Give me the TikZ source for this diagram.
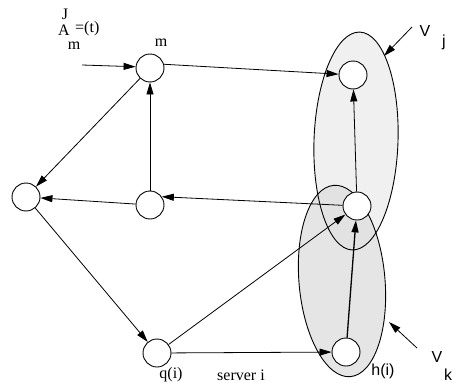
\documentclass[tikz,border=0pt]{standalone}
\usepackage{fontspec}
\setmainfont{Liberation Serif}
\newfontfamily\labsans{Liberation Sans}
\usetikzlibrary{arrows.meta, positioning}
\tikzset{
  station/.style={circle, draw, fill=white, minimum size=28pt,
    inner sep=0pt, line width=0.9pt},
  flow/.style={-{Triangle[length=12pt, width=7pt]}, line width=0.8pt},
  region/.style={draw, line width=0.9pt},
  txt/.style={font=\fontsize{16}{18}\selectfont, inner sep=0pt},
  sanstxt/.style={font=\fontsize{16}{18}\labsans, inner sep=0pt}
}

\begin{document}
\begin{tikzpicture}[x=1pt, y=-1pt]
  \useasboundingbox (0,0) rectangle (453,383);

  % regions V_j and V_k
  \fill[gray!12, rotate around={-2:(356,141)}] (356,141) ellipse [x radius=42, y radius=109];
  \fill[gray!25, fill opacity=0.8, rotate around={5:(342,281)}] (342,281) ellipse [x radius=43, y radius=96];
  \draw[region, rotate around={-2:(356,141)}] (356,141) ellipse [x radius=42, y radius=109];
  \draw[region, rotate around={5:(342,281)}] (342,281) ellipse [x radius=43, y radius=96];

  % stations
  \node[station] (nm) at (150,68) {};
  \node[station] (nt) at (353,75) {};
  \node[station] (nc) at (150,205) {};
  \node[station] (nl) at (26,197) {};
  \node[station] (nr) at (357,206) {};
  \node[station] (nq) at (157,353) {};
  \node[station] (nh) at (346,352) {};

  % connectors
  \coordinate (arr) at (82,65);
  \draw[flow] (arr) -- (nm.175);
  \draw[flow] (nm.15) -- (nt);
  \draw[flow] (nm) -- (nl);
  \draw[flow] (nc) -- (nm);
  \draw[flow] (nc) -- (nl);
  \draw[flow] (nr) -- (nc.35);
  \draw[flow] (nr) -- (nt);
  \draw[flow] (nl) -- (nq);
  \draw[flow] (nq) -- (nr);
  \draw[flow] (nq) -- (nh);
  \draw[flow, line width=1.3pt] (nh) -- (nr);

  % pointers to the regions
  \coordinate (vjtail) at (412,27);
  \coordinate (vjtip) at (384,56);
  \coordinate (vktail) at (417,348);
  \coordinate (vktip) at (389,322);
  \draw[flow] (vjtail) -- (vjtip);
  \draw[flow] (vktail) -- (vktip);

  % labels
  \node[txt] (Alab) at (64,30) {A};
  \node[txt] (Jlab) at (65,14) {J};
  \node[txt] (msub) at (74,46) {m};
  \node[txt, anchor=west] (tlab) at (75,29) {=(t)};
  \node[txt] (mlab) at (161,43) {m};
  \node[txt] (qlab) at (171,375) {q(i)};
  \node[txt] (slab) at (241,375) {server i};
  \node[sanstxt] (hlab) at (383,371) {h(i)};
  \node[sanstxt] (vj) at (425,31) {V};
  \node[sanstxt] (vjsub) at (444,42) {j};
  \node[sanstxt] (vk) at (437,357) {V};
  \node[sanstxt] (vksub) at (448,375) {k};
\end{tikzpicture}
\end{document}
